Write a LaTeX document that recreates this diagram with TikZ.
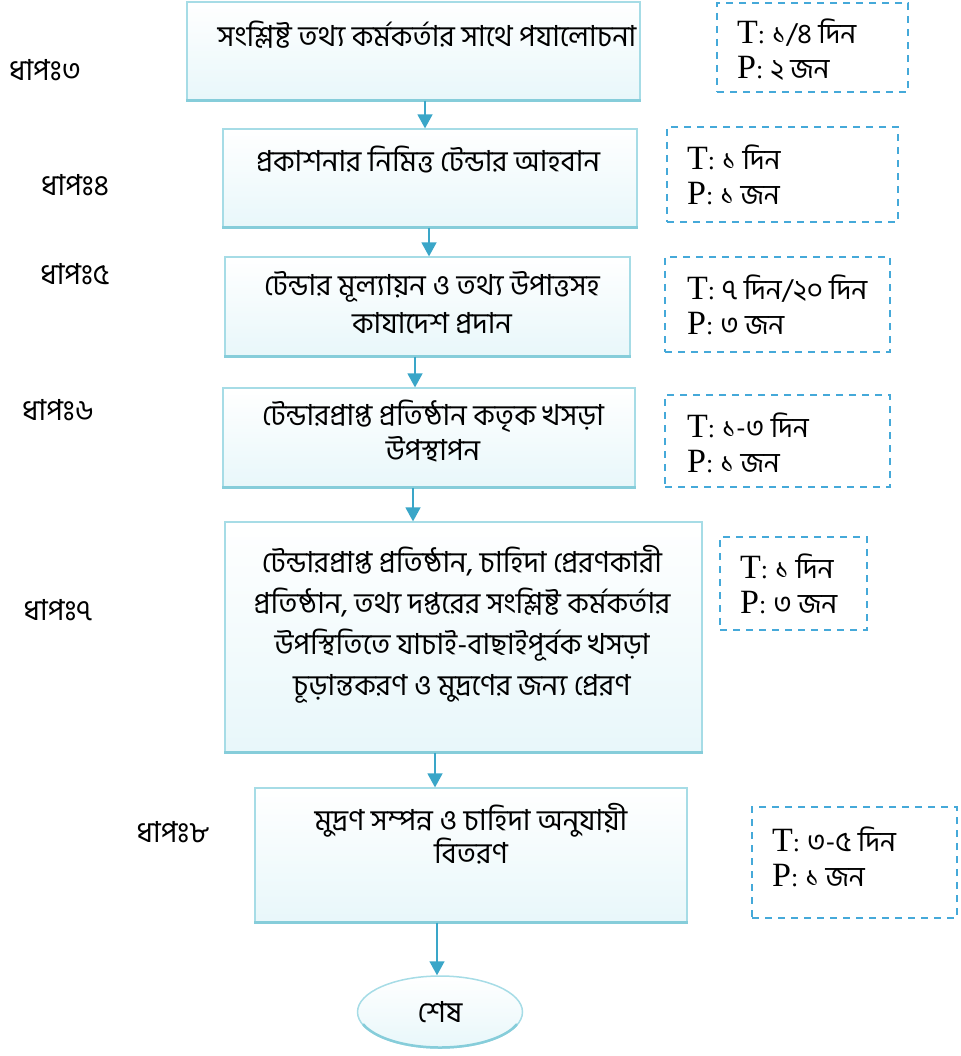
\documentclass[tikz,border=0pt]{standalone}
\usepackage{fontspec}
\newfontfamily\bn[Script=Bengali]{Hind Siliguri}
\newfontfamily\lat{Liberation Serif}
\usetikzlibrary{arrows.meta,shapes.geometric,calc}
\definecolor{boxc}{HTML}{A6DCE6}
\definecolor{boxb}{HTML}{86CDDA}
\definecolor{boxfill}{HTML}{E8F7FA}
\definecolor{arrc}{HTML}{3AA6C8}
\definecolor{dashc}{HTML}{45A9D9}
\tikzset{
  stepbox/.style={draw=boxc, line width=1.2pt, top color=white, bottom color=boxfill, rectangle, inner sep=0pt},
  btext/.style={font=\bn\fontsize{29}{40}\selectfont, align=center, inner sep=0pt},
  lbl/.style={font=\bn\fontsize{29}{30}\selectfont, inner sep=0pt},
  tbox/.style={draw=dashc, dashed, dash pattern=on 7pt off 6pt, line width=1.3pt, rectangle, inner sep=0pt},
  ttext/.style={align=left, anchor=west, inner sep=0pt, font=\fontsize{28}{35}\selectfont},
  arr/.style={draw=arrc, line width=1.5pt, -{Triangle[width=15pt,length=14pt]}},
}
\newcommand{\TP}[2]{{\lat\fontsize{34}{35}\selectfont T}{\lat\fontsize{26}{35}\selectfont :}\hspace{7pt}{\bn #1}\\{\lat\fontsize{34}{35}\selectfont P}{\lat\fontsize{26}{35}\selectfont :}\hspace{7pt}{\bn #2}}
\newcommand{\mkbox}[5]{\node[stepbox, minimum width=#4-#2, minimum height=#5-#3] (#1) at ({(#2+#4)/2},{(#3+#5)/2}) {};
  \draw[boxb, line width=3pt] (#1.south west) -- (#1.south east);}
\newcommand{\mktbox}[5]{\node[tbox, minimum width=#4-#2, minimum height=#5-#3] (#1) at ({(#2+#4)/2},{(#3+#5)/2}) {};}
\begin{document}
\begin{tikzpicture}[x=1pt,y=-1pt]
\useasboundingbox (0,0) rectangle (960,1056);
% main boxes
\mkbox{b3}{187}{2}{640}{100}
\mkbox{b4}{223}{129}{637}{227}
\mkbox{b5}{225}{257}{630}{356}
\mkbox{b6}{223}{388}{635}{487}
\mkbox{b7}{225}{522}{702}{752}
\mkbox{b8}{255}{788}{687}{922}
\node[ellipse, draw=boxc, line width=1.5pt, top color=white, bottom color=boxfill, minimum width=165pt, minimum height=72pt, inner sep=0pt] (end) at (440,1012) {};
\draw[boxb, line width=2.5pt] ([shift={(200:82pt and 35.5pt)}]end.center) arc[start angle=200, end angle=340, x radius=82pt, y radius=35.5pt];
% texts
\node[btext] (t3) at (427,35) {সংশ্লিষ্ট তথ্য কর্মকর্তার সাথে পযালোচনা};
\node[btext] (t4) at (428,160) {প্রকাশনার নিমিত্ত টেন্ডার আহবান};
\node[btext, font=\bn\fontsize{29}{38}\selectfont] (t5) at (432,303) {টেন্ডার মূল্যায়ন ও তথ্য উপাত্তসহ\\কাযাদেশ প্রদান};
\node[btext, font=\bn\fontsize{29}{35}\selectfont] (t6) at (433,431) {টেন্ডারপ্রাপ্ত প্রতিষ্ঠান কতৃক খসড়া\\উপস্থাপন};
\node[btext, font=\bn\fontsize{29}{41}\selectfont] (t7) at (462,624) {টেন্ডারপ্রাপ্ত প্রতিষ্ঠান, চাহিদা প্রেরণকারী\\প্রতিষ্ঠান, তথ্য দপ্তরের সংশ্লিষ্ট কর্মকর্তার\\উপস্থিতিতে যাচাই-বাছাইপূর্বক খসড়া\\চূড়ান্তকরণ ও মুদ্রণের জন্য প্রেরণ};
\node[btext, font=\bn\fontsize{29}{30}\selectfont] (t8) at (471,834) {মুদ্রণ সম্পন্ন ও চাহিদা অনুযায়ী\\বিতরণ};
\node[btext] (tend) at (440,1012) {শেষ};
% step labels
\node[lbl] (l3) at (45,70) {ধাপঃ৩};
\node[lbl] (l4) at (75,185) {ধাপঃ৪};
\node[lbl] (l5) at (75,274) {ধাপঃ৫};
\node[lbl] (l6) at (58,410) {ধাপঃ৬};
\node[lbl] (l7) at (58,610) {ধাপঃ৭};
\node[lbl] (l8) at (173,832) {ধাপঃ৮};
% time/person boxes
\mktbox{d3}{717}{3}{908}{92}
\mktbox{d4}{667}{127}{898}{222}
\mktbox{d5}{665}{257}{890}{352}
\mktbox{d6}{665}{395}{890}{487}
\mktbox{d7}{720}{537}{867}{630}
\mktbox{d8}{752}{807}{957}{918}
\node[ttext] (p3) at (737,50) {\TP{১/৪ দিন}{২ জন}};
\node[ttext] (p4) at (687,175) {\TP{১ দিন}{১ জন}};
\node[ttext] (p5) at (687,305) {\TP{৭ দিন/২০ দিন}{৩ জন}};
\node[ttext] (p6) at (687,443) {\TP{১-৩ দিন}{১ জন}};
\node[ttext] (p7) at (740,584) {\TP{১ দিন}{৩ জন}};
\node[ttext] (p8) at (772,857) {\TP{৩-৫ দিন}{১ জন}};
% arrows
\draw[arr] ([xshift=11.5pt]b3.south) -- ([xshift=11.5pt]b3.south |- b4.north);
\draw[arr] ([xshift=-1pt]b4.south) -- ([xshift=-1pt]b4.south |- b5.north);
\draw[arr] ([xshift=-12.5pt]b5.south) -- ([xshift=-12.5pt]b5.south |- b6.north);
\draw[arr] ([xshift=-16pt]b6.south) -- ([xshift=-16pt]b6.south |- b7.north);
\draw[arr] ([xshift=-28.5pt]b7.south) -- ([xshift=-28.5pt]b7.south |- b8.north);
\draw[arr] ([xshift=-34pt]b8.south) -- ([xshift=-34pt]b8.south |- end.north);
\end{tikzpicture}
\end{document}
